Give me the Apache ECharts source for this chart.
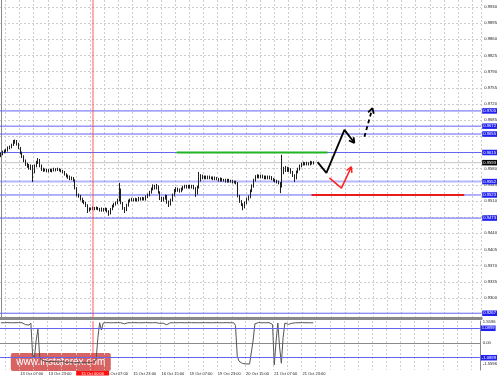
<!DOCTYPE html>
<html>
<head>
<meta charset="utf-8">
<script src="https://cdn.jsdelivr.net/npm/echarts@6/dist/echarts.min.js"></script>
<style>html,body{margin:0;padding:0;background:#fff}#c{width:500px;height:377px}</style>
</head>
<body>
<div id="c"></div>
<script>
// ---------- DATA ----------
const SLOT_COUNT = 272; // hourly slots on the time axis (bars + empty future area)

const opens = [
.9608,.9612,.9616,.9618,.9620,.9625,.9627,.9631,.9638,.9640,
.9633,.9625,.9614,.9607,.9597,.9590,.9586,.9581,.9586,.9573,
.9586,.9594,.9599,.9586,.9579,.9577,.9577,.9575,.9577,.9575,
.9577,.9579,.9577,.9579,.9577,.9575,.9573,.9568,.9564,.9562,
.9558,.9560,.9555,.9538,.9523,.9521,.9514,.9510,.9506,.9501,
.9490,.9493,.9493,.9495,.9493,.9495,.9493,.9490,.9493,.9490,
.9493,.9488,.9484,.9493,.9499,.9503,.9506,.9512,.9534,.9506,
.9495,.9490,.9501,.9510,.9512,.9514,.9512,.9514,.9512,.9516,
.9514,.9516,.9514,.9519,.9523,.9529,.9536,.9542,.9538,.9542,
.9529,.9516,.9512,.9516,.9521,.9508,.9503,.9512,.9523,.9532,
.9536,.9534,.9532,.9536,.9540,.9542,.9540,.9542,.9540,.9542,
.9538,.9527,.9540,.9555,.9564,.9560,.9562,.9560,.9562,.9560,
.9560,.9558,.9560,.9558,.9555,.9558,.9555,.9555,.9553,.9555,
.9553,.9553,.9551,.9551,.9549,.9521,.9510,.9503,.9497,.9506,
.9514,.9519,.9532,.9542,.9555,.9562,.9564,.9562,.9564,.9562,
.9560,.9562,.9560,.9562,.9558,.9555,.9553,.9551,.9549,.9542,
.9573,.9577,.9581,.9577,.9579,.9573,.9566,.9560,.9573,.9579,
.9586,.9590,.9592,.9590,.9592,.9590,.9594,.9592];

const closes = [
.9612,.9616,.9618,.9620,.9625,.9627,.9631,.9638,.9640,.9633,
.9625,.9614,.9607,.9597,.9590,.9586,.9581,.9586,.9573,.9586,
.9594,.9599,.9586,.9579,.9577,.9577,.9575,.9577,.9575,.9577,
.9579,.9577,.9579,.9577,.9575,.9573,.9568,.9564,.9562,.9558,
.9560,.9555,.9538,.9523,.9521,.9514,.9510,.9506,.9501,.9490,
.9493,.9493,.9495,.9493,.9495,.9493,.9490,.9493,.9490,.9493,
.9488,.9484,.9493,.9499,.9503,.9506,.9512,.9534,.9506,.9495,
.9490,.9501,.9510,.9512,.9514,.9512,.9514,.9512,.9516,.9514,
.9516,.9514,.9519,.9523,.9529,.9536,.9542,.9538,.9542,.9529,
.9516,.9512,.9516,.9521,.9508,.9503,.9512,.9523,.9532,.9536,
.9534,.9532,.9536,.9540,.9542,.9540,.9542,.9540,.9542,.9538,
.9527,.9540,.9555,.9564,.9560,.9562,.9560,.9562,.9560,.9560,
.9558,.9560,.9558,.9555,.9558,.9555,.9555,.9553,.9555,.9553,
.9553,.9551,.9551,.9549,.9521,.9510,.9503,.9497,.9506,.9514,
.9519,.9532,.9542,.9555,.9562,.9564,.9562,.9564,.9562,.9560,
.9562,.9560,.9562,.9558,.9555,.9553,.9551,.9549,.9542,.9573,
.9577,.9581,.9577,.9579,.9573,.9566,.9560,.9573,.9579,.9586,
.9590,.9592,.9590,.9592,.9590,.9594,.9592,.9593];

const lows = [
.9605,.9609,.9613,.9615,.9617,.9622,.9624,.9629,.9634,.9630,
.9622,.9611,.9603,.9594,.9586,.9582,.9578,.9577,.9551,.9570,
.9583,.9590,.9583,.9575,.9573,.9574,.9572,.9572,.9573,.9572,
.9574,.9574,.9575,.9574,.9572,.9570,.9565,.9561,.9558,.9555,
.9555,.9552,.9535,.9520,.9517,.9511,.9506,.9503,.9497,.9484,
.9487,.9490,.9490,.9490,.9491,.9490,.9487,.9487,.9487,.9488,
.9485,.9478,.9481,.9490,.9496,.9500,.9503,.9509,.9503,.9491,
.9484,.9488,.9498,.9507,.9509,.9509,.9509,.9509,.9509,.9511,
.9511,.9511,.9511,.9516,.9520,.9526,.9533,.9535,.9535,.9526,
.9512,.9508,.9509,.9513,.9504,.9497,.9500,.9509,.9520,.9529,
.9530,.9528,.9529,.9533,.9537,.9537,.9537,.9537,.9537,.9535,
.9519,.9524,.9537,.9552,.9557,.9557,.9557,.9557,.9557,.9557,
.9555,.9555,.9555,.9552,.9552,.9552,.9552,.9550,.9550,.9550,
.9550,.9548,.9548,.9546,.9518,.9506,.9499,.9490,.9494,.9503,
.9511,.9516,.9529,.9539,.9552,.9559,.9559,.9559,.9559,.9557,
.9557,.9557,.9557,.9555,.9552,.9550,.9548,.9546,.9527,.9539,
.9568,.9573,.9573,.9573,.9569,.9562,.9551,.9557,.9570,.9576,
.9583,.9587,.9587,.9587,.9587,.9587,.9589,.9589];

const highs = [
.9615,.9619,.9621,.9623,.9628,.9630,.9634,.9642,.9643,.9642,
.9636,.9627,.9617,.9609,.9600,.9593,.9590,.9589,.9588,.9589,
.9597,.9603,.9601,.9589,.9582,.9580,.9580,.9579,.9580,.9580,
.9582,.9581,.9582,.9581,.9579,.9577,.9575,.9570,.9567,.9565,
.9563,.9562,.9557,.9540,.9526,.9523,.9517,.9512,.9508,.9503,
.9496,.9496,.9498,.9497,.9498,.9497,.9495,.9496,.9495,.9496,
.9495,.9490,.9495,.9502,.9506,.9509,.9515,.9549,.9537,.9508,
.9497,.9504,.9513,.9515,.9517,.9516,.9517,.9516,.9519,.9518,
.9519,.9518,.9522,.9526,.9532,.9539,.9546,.9545,.9547,.9544,
.9531,.9519,.9519,.9524,.9523,.9511,.9515,.9526,.9536,.9540,
.9539,.9537,.9539,.9543,.9545,.9545,.9545,.9545,.9545,.9545,
.9540,.9543,.9573,.9568,.9567,.9565,.9565,.9565,.9565,.9563,
.9563,.9563,.9562,.9560,.9561,.9560,.9558,.9558,.9558,.9558,
.9556,.9556,.9554,.9554,.9551,.9523,.9512,.9505,.9509,.9517,
.9522,.9535,.9546,.9558,.9566,.9568,.9567,.9567,.9567,.9565,
.9565,.9565,.9565,.9564,.9560,.9558,.9556,.9554,.9551,.9610,
.9584,.9586,.9584,.9583,.9581,.9575,.9568,.9576,.9582,.9589,
.9593,.9595,.9594,.9595,.9594,.9597,.9596,.9596];

const oscillator = [
1.50,1.51,1.50,1.50,1.51,1.50,1.50,1.51,1.50,1.50,1.51,1.50,1.50,
1.42,1.36,1.38,1.33,1.48,
-0.90,-1.11,0.20,1.02,-1.05,-1.26,
-1.32,-1.35,-1.30,-1.38,-1.40,-1.36,-1.33,-1.38,-1.42,-1.40,
-1.37,-1.35,-1.41,-1.45,-1.44,-1.42,-1.46,-1.48,-1.47,-1.45,
-1.48,-1.47,-1.46,-1.45,-1.47,-1.46,-1.44,-1.45,-1.43,-1.40,
-1.20,0.40,1.50,0.96,1.48,
1.50,1.51,1.50,1.50,1.51,1.50,1.50,1.51,1.50,1.50,
1.45,1.42,1.46,
1.50,1.51,1.50,1.50,1.51,1.50,1.50,1.51,1.50,1.50,1.51,1.50,1.50,1.51,1.50,1.50,1.51,1.50,
1.45,1.38,1.47,1.40,1.35,1.44,1.50,1.47,
1.50,1.51,1.50,1.50,1.51,1.50,1.50,1.51,1.50,1.50,1.51,1.50,1.50,
1.44,
1.50,1.51,1.50,1.50,1.51,1.50,1.50,1.51,1.50,1.50,1.51,1.50,1.50,1.51,1.50,1.50,1.51,1.50,1.50,1.51,1.50,
1.30,-1.00,-1.35,
-1.48,-1.52,-1.55,-1.55,-1.53,-1.55,-1.50,
0.20,1.42,
1.50,1.51,1.50,1.50,1.51,1.50,1.50,1.51,1.50,
1.38,-1.63,0.10,1.48,-0.30,-1.50,0.40,1.48,
1.40,1.38,1.42,1.46,1.50,
1.50,1.51,1.50,1.50,1.51,1.50,1.50,1.51,1.50,1.50,1.50];

const priceTicks = [0.9300,0.9335,0.9370,0.9405,0.9440,0.9475,0.9510,0.9545,0.9580,0.9615,
                    0.9650,0.9685,0.9720,0.9755,0.9790,0.9825,0.9860,0.9895,0.9930];
const oscTicks = [1.5596, 0, -1.5596];
const timeLabels = ['13 Oct 07:00','13 Oct 23:00','14 Oct 15:00','15 Oct 07:00','15 Oct 23:00',
                    '16 Oct 15:00','19 Oct 07:00','19 Oct 23:00','20 Oct 15:00','21 Oct 07:00','21 Oct 23:00'];
const timeLabelSlots = [11,27,43,59,75,91,107,123,139,155,171];

const levelPrices = [0.9705,0.9672,0.9655,0.9615,0.9552,0.9523,0.9473,0.9267];
const currentPrice = 0.9593;
const oscLevels = [1.0899,-1.0899];
const dayLineSlot = 52;
const dayLineLabel = '15 Oct 00:00';

// drawn levels / forecast arrows, in [slot, price]
const greenSegment = [[99.4,0.9615],[184.6,0.9615]];
const redSegment   = [[175.6,0.9523],[261.9,0.9523]];
const blackPath    = [[179.0,0.9594],[184.0,0.9571],[194.2,0.9664],[199.8,0.9636]];
const blackHead    = [[199.4,0.9648],[199.8,0.9636],[196.7,0.9641]];
const dashedPath   = [[205.5,0.9649],[210.0,0.9711]];
const dashedHead   = [[207.6,0.9702],[210.0,0.9711],[210.8,0.9699]];
const redPath      = [[185.7,0.9560],[192.5,0.9538],[198.1,0.9584]];
const redHead      = [[195.4,0.9576],[198.1,0.9584],[198.4,0.9571]];

// ---------- CHART ----------
const FONT = 'Liberation Sans, Arial, sans-serif';
const slotIds = Array.from({length: SLOT_COUNT}, (_, i) => String(i));
const candles = opens.map((o, i) => [o, closes[i], lows[i], highs[i]]);
const gridLine = {show: true, lineStyle: {color: '#cdcdcd', type: [2, 2], width: 1}};
const vSplit = {show: true, interval: (i) => i % 8 === 3, lineStyle: {color: '#cdcdcd', type: [2, 2], width: 1}};
const boxLabel = (txt, bg) => ({show: true, position: 'end', distance: 1, formatter: txt, color: '#fff',
  backgroundColor: bg, padding: [1, 1, 0.5, 1], fontSize: 4.2, fontFamily: FONT});

function path(data, color, width, type, z) {
  return {type: 'line', xAxisIndex: 2, yAxisIndex: 0, data: data, symbol: 'none', silent: true, clip: false,
    lineStyle: {color: color, width: width, type: type || 'solid'}, z: z || 5};
}
// full-width horizontal level with its price box at the right edge
function level(price, color, width, boxColor) {
  const s = path([[-0.5, price], [SLOT_COUNT - 0.5, price]], color, width, 'solid', 3);
  s.endLabel = {show: true, distance: 1, formatter: price.toFixed(4), color: '#fff', backgroundColor: boxColor,
    padding: [1, 1, 0.5, 1], fontSize: 4.2, fontFamily: FONT};
  return s;
}

const levelSeries = levelPrices.map(p => p === 0.9552
  ? level(p, 'rgba(110,110,255,0.5)', 2, '#2020f0')
  : level(p, '#6464f0', 1, '#2020f0'));
levelSeries.push(level(currentPrice, '#c4c4c4', 1, '#000'));

const chart = echarts.init(document.getElementById('c'), null, {renderer: 'canvas'});
chart.setOption({
  animation: false,
  backgroundColor: '#fff',
  textStyle: {fontFamily: FONT},
  grid: [
    {left: 0, right: 18, top: 0, height: 318},
    {left: 0, right: 18, top: 321, height: 49}
  ],
  xAxis: [
    {type: 'category', gridIndex: 0, data: slotIds, boundaryGap: true,
     axisLine: {show: true, lineStyle: {color: '#8a8a8a', width: 3}},
     axisTick: {show: false}, axisLabel: {show: false}, splitLine: vSplit},
    {type: 'category', gridIndex: 1, data: slotIds, boundaryGap: true,
     axisLine: {show: true, lineStyle: {color: '#8a8a8a', width: 1}},
     axisTick: {show: false}, splitLine: vSplit,
     axisLabel: {show: true, interval: (i) => timeLabelSlots.indexOf(i) >= 0,
       formatter: (v) => { const j = timeLabelSlots.indexOf(Number(v)); return j >= 0 ? timeLabels[j] : ''; },
       align: 'left', margin: 2, fontSize: 4, color: '#222', fontFamily: FONT}},
    {type: 'value', gridIndex: 0, min: -0.5, max: SLOT_COUNT - 0.5, show: false}
  ],
  yAxis: [
    {type: 'value', gridIndex: 0, position: 'right', min: 0.925669, max: 0.994515,
     axisLine: {show: true, lineStyle: {color: '#8a8a8a', width: 1}},
     axisTick: {show: false, customValues: priceTicks},
     axisLabel: {customValues: priceTicks, formatter: (v) => v.toFixed(4), margin: 3, fontSize: 4.2, color: '#222', fontFamily: FONT},
     splitLine: gridLine},
    {type: 'value', gridIndex: 1, position: 'right', min: -2.0, max: 1.63,
     axisLine: {show: true, lineStyle: {color: '#8a8a8a', width: 1}},
     axisTick: {show: false, customValues: [0]},
     axisLabel: {customValues: oscTicks, formatter: (v) => v === 0 ? '0.00' : v.toFixed(4), margin: 3, fontSize: 4.2, color: '#222', fontFamily: FONT},
     splitLine: gridLine}
  ],
  series: [
    ...levelSeries,
    {type: 'candlestick', xAxisIndex: 0, yAxisIndex: 0, data: candles, barWidth: 1.2, z: 4,
     itemStyle: {color: '#1e1e1e', color0: '#1e1e1e', borderColor: '#1e1e1e', borderColor0: '#1e1e1e', borderWidth: 1}},
    {type: 'line', xAxisIndex: 1, yAxisIndex: 1, data: oscillator, symbol: 'none', z: 4,
     lineStyle: {color: '#555', width: 1},
     markLine: {silent: true, symbol: 'none', animation: false, data: [
       ...oscLevels.map(v => ({yAxis: v, lineStyle: {color: '#6464f0', width: 1, type: 'solid'}, label: boxLabel(v.toFixed(4), '#2020f0')})),
       {xAxis: String(dayLineSlot), lineStyle: {color: 'rgba(255,60,60,0.55)', width: 1.5, type: 'solid'},
        label: {show: true, position: 'start', distance: 1, formatter: dayLineLabel, color: '#fff', backgroundColor: '#ff1010',
          padding: [0.5, 5, 0, 5], fontSize: 4, fontFamily: FONT}}
     ]}},
    {type: 'line', xAxisIndex: 2, yAxisIndex: 0, data: [], silent: true,
     markLine: {silent: true, symbol: 'none', animation: false, label: {show: false},
       data: [{xAxis: dayLineSlot, lineStyle: {color: 'rgba(255,60,60,0.55)', width: 1.5, type: 'solid'}}]}},
    path(greenSegment, '#22b422', 2),
    path(redSegment, '#e81c1c', 2),
    path(blackPath, '#000', 1.8),
    path(blackHead, '#000', 1.8),
    path(dashedPath, '#000', 1.8, [4, 3]),
    path(dashedHead, '#000', 1.8),
    path(redPath, '#ff2020', 1.5),
    path(redHead, '#ff2020', 1.5)
  ],
  graphic: [
    {type: 'group', left: 8, top: 353, z: 100, children: [
      {type: 'rect', shape: {x: 0, y: 0, width: 100, height: 18, r: 2}, style: {fill: 'rgba(205,55,55,0.78)'}},
      {type: 'text', x: 50, y: 9.5, style: {text: '[  www.instaforex.com  ]', fill: '#fff',
        font: '10px Liberation Sans', align: 'center', verticalAlign: 'middle'}}
    ]}
  ]
});
</script>
</body>
</html>
